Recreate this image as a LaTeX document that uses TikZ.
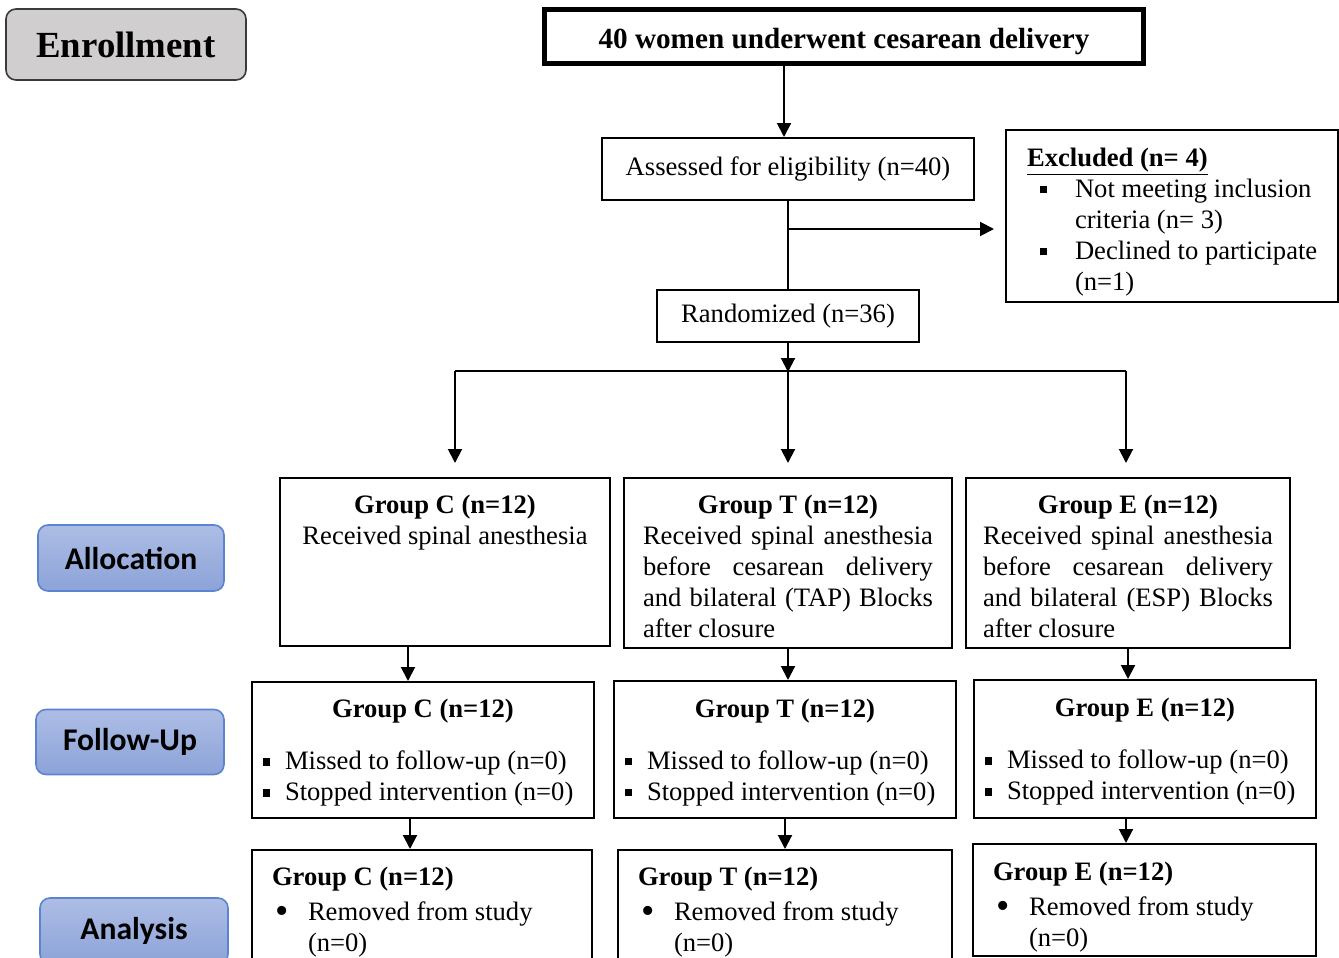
\documentclass[tikz,border=0pt]{standalone}
\usepackage{fontspec}
\setmainfont{Liberation Serif}
\newfontfamily\calibfont{Carlito}
\usepackage{xcolor}
\usepackage{tikz}
\usetikzlibrary{arrows.meta, positioning, calc}
\definecolor{enrollgrey}{HTML}{D0CECE}
\definecolor{enrolledge}{HTML}{3A3A3A}
\definecolor{stagetop}{HTML}{ADBDE5}
\definecolor{stagebottom}{HTML}{8CA3D8}
\definecolor{stageedge}{HTML}{5B84D0}

\newcommand{\bodyfont}{\fontsize{13.3}{15.5}\selectfont}
\newcommand{\sqbullet}{\rule[1.9pt]{3.7pt}{3.7pt}}
\newcommand{\sqitem}{\makebox[11pt][l]{\sqbullet}}
\newcommand{\exitem}{\hspace*{6.5pt}\makebox[17.5pt][l]{\sqbullet}}
\newcommand{\dotitem}{\hspace*{1.5pt}\makebox[16.5pt][l]{\raisebox{-1.8pt}[0pt][0pt]{\fontsize{19}{19}\selectfont\textbullet}}}
\newcommand{\lift}[1]{\rule{0pt}{#1}}

\tikzset{
  box/.style={draw, line width=1pt, inner sep=0pt, font=\bodyfont},
  stage/.style={draw=stageedge, line width=0.8pt, rounded corners=5pt,
    top color=stagetop, bottom color=stagebottom,
    minimum width=93pt, minimum height=33pt,
    font=\calibfont\fontsize{15.8}{18}\selectfont\bfseries},
  arr/.style={line width=1pt, -{Triangle[length=7pt, width=7pt]}},
  link/.style={line width=1pt}
}

\begin{document}
\begin{tikzpicture}[x=0.5pt, y=-0.5pt]
  \useasboundingbox (0,0) rectangle (1339,958);
  \clip (0,0) rectangle (1339,958);

  % phase labels
  \node[draw=enrolledge, line width=0.8pt, rounded corners=5pt, fill=enrollgrey,
    minimum width=120pt, minimum height=35.5pt,
    font=\fontsize{18.4}{20}\selectfont\bfseries] (enroll) at (126,44.5) {Enrollment};
  \node[stage] (allocation) at (131,558) {Allocation};
  \node[stage, minimum width=94pt, minimum height=32.5pt] (followup) at (130,742) {Follow-Up};
  \node[stage, minimum width=94pt] (analysis) at (134,931) {Analysis};

  % enrollment
  \node[box, line width=2.5pt, minimum width=299.5pt, minimum height=27pt,
    font=\fontsize{14.6}{17}\selectfont\bfseries] (title) at (844,36.5) {\lift{15pt}40 women underwent cesarean delivery};
  \node[box, minimum width=186pt, minimum height=31pt] (assess) at (788,169) {Assessed for eligibility (n=40)};
  \node[box, text width=145pt, inner xsep=10.5pt, minimum height=86pt, align=flush left] (excl) at (1172,216)
    {\lift{15pt}\textbf{\underline{Excluded (n= 4)}}\\
     \exitem\makebox[120pt][l]{Not meeting inclusion}\\
     \hspace*{24pt}\makebox[120pt][l]{criteria (n= 3)}\\
     \exitem\makebox[120pt][l]{Declined to participate}\\
     \hspace*{24pt}(n=1)};
  \node[box, minimum width=131pt, minimum height=26pt] (random) at (788,316) {Randomized (n=36)};

  % allocation
  \node[box, text width=145pt, align=flush left, minimum width=165pt, minimum height=84pt] (allocC) at (445,562)
    {\makebox[145pt]{\lift{13pt}\textbf{Group C (n=12)}}\\
     \makebox[145pt]{Received spinal anesthesia}\\ \mbox{}\\ \mbox{}\\ \mbox{}};
  \node[box, text width=145pt, align=flush left, minimum width=164pt, minimum height=85pt] (allocT) at (788,563)
    {\makebox[145pt]{\lift{13pt}\textbf{Group T (n=12)}}\\
     \makebox[145pt][s]{Received spinal anesthesia}\\
     \makebox[145pt][s]{before\hfill cesarean\hfill delivery}\\
     \makebox[145pt][s]{and bilateral (TAP) Blocks}\\
     \makebox[145pt][l]{after closure}};
  \node[box, text width=145pt, align=flush left, minimum width=162pt, minimum height=85pt] (allocE) at (1128,563)
    {\makebox[145pt]{\lift{13pt}\textbf{Group E (n=12)}}\\
     \makebox[145pt][s]{Received spinal anesthesia}\\
     \makebox[145pt][s]{before\hfill cesarean\hfill delivery}\\
     \makebox[145pt][s]{and bilateral (ESP) Blocks}\\
     \makebox[145pt][l]{after closure}};

  % follow-up
  \node[box, text width=160pt, inner xsep=5.5pt, align=flush left, minimum height=68pt] (fupC) at (423,750)
    {\makebox[160pt]{\lift{12pt}\textbf{Group C (n=12)}}\\[10.5pt]
     \sqitem Missed to follow-up (n=0)\\ \sqitem Stopped intervention (n=0)};
  \node[box, text width=160pt, inner xsep=5.5pt, align=flush left, minimum height=68.5pt] (fupT) at (785,749.5)
    {\makebox[160pt]{\lift{12pt}\textbf{Group T (n=12)}}\\[10.5pt]
     \sqitem Missed to follow-up (n=0)\\ \sqitem Stopped intervention (n=0)};
  \node[box, text width=160pt, inner xsep=5.5pt, align=flush left, minimum height=69pt] (fupE) at (1145,749)
    {\makebox[160pt]{\lift{12pt}\textbf{Group E (n=12)}}\\[10.5pt]
     \sqitem Missed to follow-up (n=0)\\ \sqitem Stopped intervention (n=0)};

  % analysis
  \node[box, text width=150pt, inner xsep=10pt, align=flush left, minimum height=56pt] (anaC) at (422,906)
    {\lift{15pt}\textbf{Group C (n=12)}\\[2pt] \dotitem Removed from study\\ \hspace*{18pt}(n=0)};
  \node[box, text width=147pt, inner xsep=10pt, align=flush left, minimum height=56pt] (anaT) at (785,906)
    {\lift{15pt}\textbf{Group T (n=12)}\\[2pt] \dotitem Removed from study\\ \hspace*{18pt}(n=0)};
  \node[box, text width=151.5pt, inner xsep=10pt, align=flush left, minimum height=56pt] (anaE) at (1144.5,900)
    {\lift{16pt}\textbf{Group E (n=12)}\\[2pt] \dotitem Removed from study\\ \hspace*{18pt}(n=0)};

  % connectors
  \draw[arr] ([xshift=-2pt]assess.north |- title.south) -- ([xshift=-2pt]assess.north);
  \draw[link] (assess.south) -- (random.north);
  \coordinate (brk) at ([yshift=-14pt]assess.south);
  \draw[arr, shorten >=5.5pt] (brk) -- (brk -| excl.west);

  \coordinate (split) at ([yshift=-14.5pt]random.south);
  \coordinate (splitC) at (455,371);
  \coordinate (splitE) at (1126,371);
  \draw[arr] (random.south) -- (split);
  \draw[link] (splitC) -- (splitE);
  \draw[arr, shorten >=7pt] (splitC) -- (splitC |- allocC.north);
  \draw[arr, shorten >=7pt] (split) -- (split |- allocT.north);
  \draw[arr, shorten >=7pt] (splitE) -- (splitE |- allocE.north);

  \draw[arr] ([xshift=-18.5pt]allocC.south) -- ([xshift=-7.5pt]fupC.north);
  \draw[arr] (allocT.south) -- (allocT.south |- fupT.north);
  \draw[arr] (allocE.south) -- (allocE.south |- fupE.north);

  \draw[arr] ([xshift=-6.5pt]fupC.south) -- ([xshift=-6pt]anaC.north);
  \draw[arr] (fupT.south) -- (anaT.north);
  \draw[arr] ([xshift=-9.5pt]fupE.south) -- ([xshift=-9.25pt]anaE.north);
\end{tikzpicture}
\end{document}
